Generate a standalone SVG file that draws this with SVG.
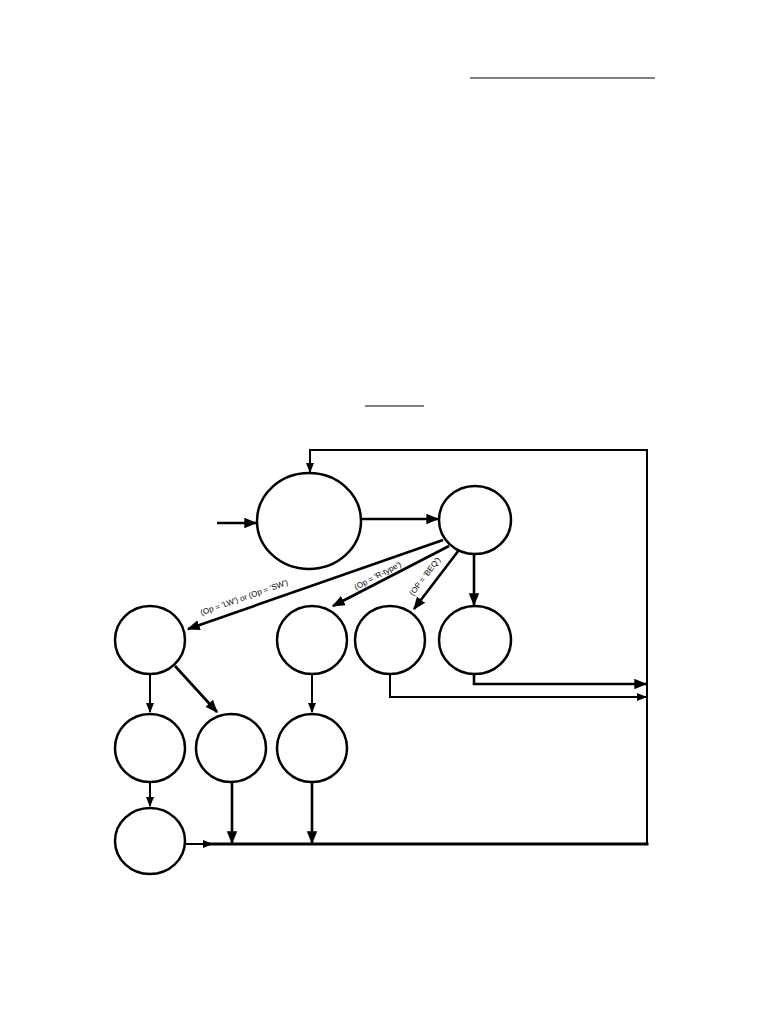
<svg xmlns="http://www.w3.org/2000/svg" width="768" height="1024" viewBox="0 0 768 1024">
<style>
.n{fill:#fff;stroke:#000;stroke-width:2.5}
.c{fill:none;stroke:#000;stroke-width:2}
.t{stroke-width:2.6}
.b{stroke-width:3}
.lbl{font-family:"Liberation Sans",Arial,sans-serif;font-size:8px;fill:#000}
</style>
<defs>
<marker id="a" viewBox="0 0 10 10" refX="9" refY="5" markerWidth="5" markerHeight="5" orient="auto" markerUnits="strokeWidth">
<path d="M0,1 L10,5 L0,9 z" fill="#000"/>
</marker>
</defs>
<rect width="768" height="1024" fill="#fff"/>
<line x1="470" y1="78" x2="655" y2="78" stroke="#555" stroke-width="1.6"/>
<line x1="365" y1="406" x2="424" y2="406" stroke="#555" stroke-width="1.6"/>
<g id="connectors">
<line class="c t" x1="217" y1="523" x2="256" y2="523" marker-end="url(#a)"/>
<line class="c t" x1="361" y1="519" x2="438" y2="519" marker-end="url(#a)"/>
<polyline class="c" points="647,844 647,450 310,450 310,472" marker-end="url(#a)"/>
<line class="c t" x1="443" y1="540" x2="188" y2="629" marker-end="url(#a)"/>
<line class="c t" x1="449" y1="546" x2="333" y2="606" marker-end="url(#a)"/>
<line class="c t" x1="459" y1="550" x2="414" y2="609" marker-end="url(#a)"/>
<line class="c t" x1="474" y1="555" x2="474" y2="605" marker-end="url(#a)"/>
<polyline class="c t" points="474,674 474,684 646,684" marker-end="url(#a)"/>
<polyline class="c" points="390,675 390,697 646,697" marker-end="url(#a)"/>
<line class="c" x1="150" y1="675" x2="150" y2="712" marker-end="url(#a)"/>
<line class="c t" x1="175" y1="666" x2="217" y2="712" marker-end="url(#a)"/>
<line class="c" x1="312" y1="675" x2="312" y2="712" marker-end="url(#a)"/>
<line class="c" x1="150" y1="783" x2="150" y2="806" marker-end="url(#a)"/>
<line class="c t" x1="232" y1="783" x2="232" y2="843" marker-end="url(#a)"/>
<line class="c t" x1="312" y1="783" x2="312" y2="843" marker-end="url(#a)"/>
<line class="c" x1="186" y1="844" x2="212" y2="844" marker-end="url(#a)"/>
<line class="c b" x1="208" y1="844" x2="648.5" y2="844"/>
<text class="lbl" transform="translate(245,600) rotate(-19.4)" text-anchor="middle">(Op = 'LW') or (Op = 'SW')</text>
<text class="lbl" transform="translate(379,578) rotate(-27.5)" text-anchor="middle">(Op = 'R-type')</text>
<text class="lbl" transform="translate(427,578) rotate(-52.5)" text-anchor="middle">(OP = 'BEQ')</text>
</g>
<g id="s0"><ellipse class="n" cx="309" cy="521" rx="52" ry="48"/></g>
<g id="s1"><ellipse class="n" cx="475" cy="520" rx="36" ry="34"/></g>
<g id="s2"><ellipse class="n" cx="150" cy="640" rx="35" ry="34"/></g>
<g id="s6"><ellipse class="n" cx="312" cy="640" rx="35" ry="34"/></g>
<g id="s8"><ellipse class="n" cx="390" cy="640" rx="35" ry="34"/></g>
<g id="s9"><ellipse class="n" cx="475" cy="640" rx="36" ry="34"/></g>
<g id="s3"><ellipse class="n" cx="150" cy="748" rx="35" ry="34"/></g>
<g id="s5"><ellipse class="n" cx="231" cy="748" rx="35" ry="34"/></g>
<g id="s7"><ellipse class="n" cx="312" cy="748" rx="35" ry="34"/></g>
<g id="s4"><ellipse class="n" cx="150" cy="841" rx="35" ry="33"/></g>
</svg>
